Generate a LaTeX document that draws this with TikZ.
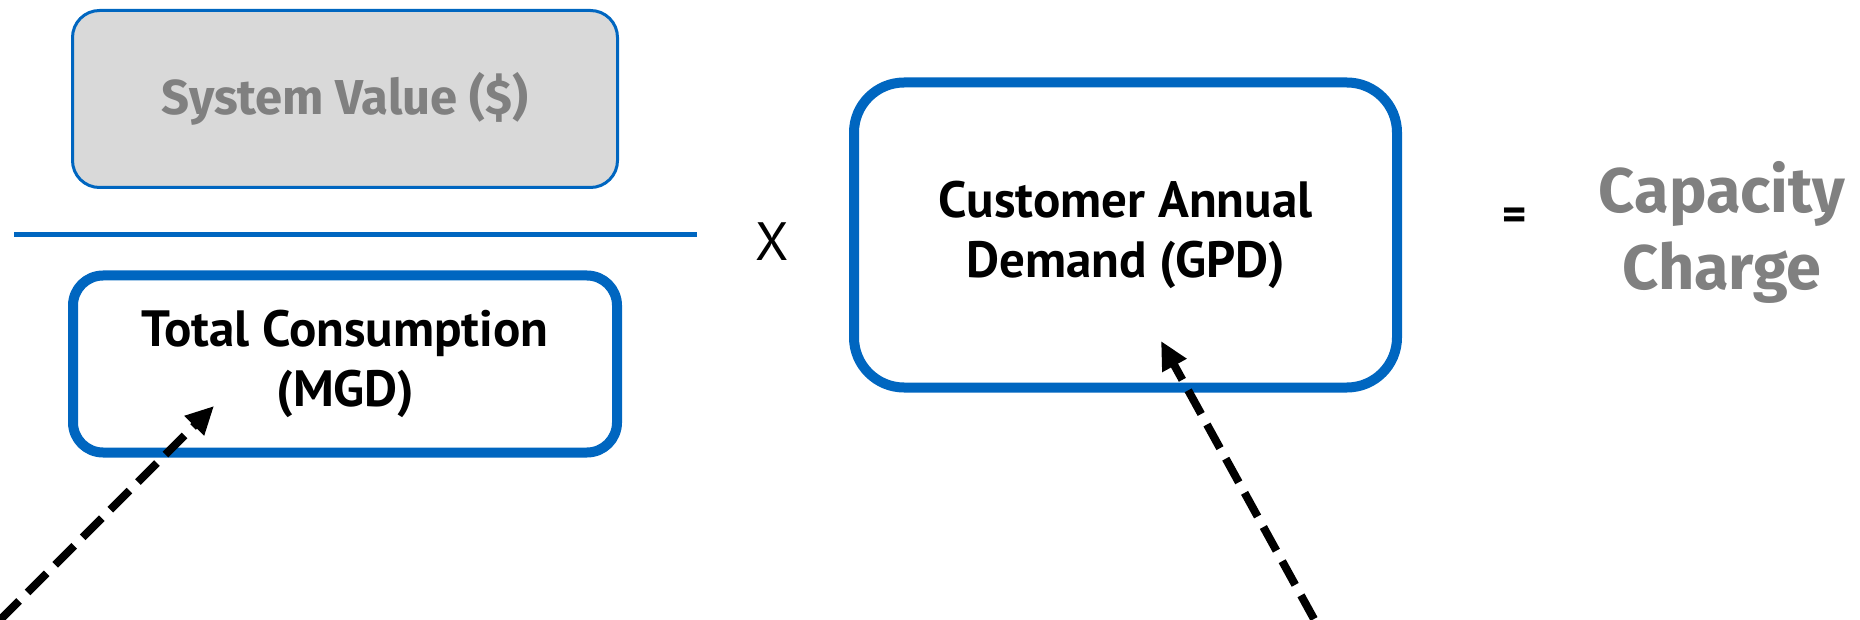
\documentclass[tikz,border=0pt]{standalone}
\usepackage{fontspec}
\setmainfont{PT Sans}
\newfontfamily\grayfont{Fira Sans}
\usetikzlibrary{arrows.meta}
\definecolor{boxblue}{RGB}{0,102,192}
\definecolor{boxgray}{RGB}{217,217,217}
\definecolor{txtgray}{RGB}{128,128,128}
\tikzset{
  thinbox/.style={draw=boxblue, line width=3pt, fill=boxgray, rounded corners=27pt, minimum width=545pt, minimum height=177pt, inner sep=0pt},
  thickbox/.style={draw=boxblue, line width=10pt, fill=white, rounded corners=30pt, inner sep=0pt, align=center},
  blacktxt/.style={font=\fontsize{51}{60}\selectfont\bfseries, text=black},
  graytxt/.style={font=\grayfont\fontsize{49}{60}\selectfont\bfseries, text=txtgray},
  dasharrow/.style={draw=black, line width=8pt, dash pattern=on 27pt off 12pt, -{Triangle[length=28pt,width=26pt]}},
}
\begin{document}
\begin{tikzpicture}[x=1pt,y=-1pt]
\useasboundingbox (0,0) rectangle (1860,620);
\node[thinbox, graytxt] (sv) at (345,99) {System Value (\$)};
\draw[boxblue, line width=5pt] (14,235) coordinate (l1) -- (697,235) coordinate (l2);
\node[thickbox, blacktxt, minimum width=544pt, minimum height=177pt] (tc) at (345,364) {Total Consumption\\(MGD)};
\node[font=\fontsize{54}{56}\selectfont, text=black] (x) at (772,242) {X};
\node[thickbox, blacktxt, rounded corners=50pt, minimum width=543pt, minimum height=305pt] (cd) at (1125.5,235) {Customer Annual\\Demand (GPD)};
\node[blacktxt, font=\fontsize{46}{50}\selectfont\bfseries] (eq) at (1515,219) {=};
\node[graytxt, font=\grayfont\fontsize{63}{77}\selectfont\bfseries, align=center] (cc) at (1722,232) {Capacity\\Charge};
\coordinate (s1) at (0,620);
\coordinate (t1) at (214,406);
\coordinate (s2) at (1314,619);
\coordinate (t2) at (1161,341);
\draw[dasharrow] (s1) -- (t1);
\draw[dasharrow] (s2) -- (t2);
\end{tikzpicture}
\end{document}
